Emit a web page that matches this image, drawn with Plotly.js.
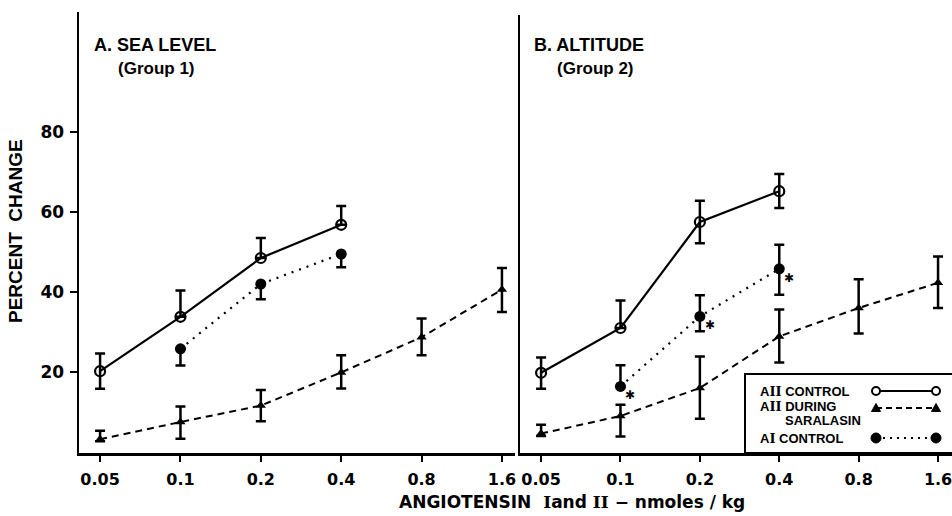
<!DOCTYPE html>
<html>
<head>
<meta charset="utf-8">
<script src="https://cdn.plot.ly/plotly-3.0.1.min.js"></script>
<style>html,body{margin:0;padding:0;background:#fff;}#chart{width:952px;height:516px;}</style>
</head>
<body>
<div id="chart"></div>
<script>
// ---------- data ----------
const doseLabels = ['0.05', '0.1', '0.2', '0.4', '0.8', '1.6'];
const dosesAll = [0.05, 0.1, 0.2, 0.4, 0.8, 1.6];
const dosesAII = [0.05, 0.1, 0.2, 0.4];
const dosesAI = [0.1, 0.2, 0.4];
const yTicks = [20, 40, 60, 80];

// A. Sea level (Group 1)
const seaAIIControl = [20.2, 33.8, 48.5, 56.8];
const seaAIIControlErrUp = [4.4, 6.6, 5.0, 4.7];
const seaAIIControlErrDn = [4.4, 0, 0, 0];
const seaSaralasin = [3.2, 7.5, 11.6, 19.9, 28.7, 40.6];
const seaSaralasinErrUp = [2.1, 3.9, 3.9, 4.3, 4.7, 5.4];
const seaSaralasinErrDn = [0.5, 4.2, 3.9, 4.0, 4.5, 5.6];
const seaAIControl = [25.8, 42.0, 49.5];
const seaAIControlErrUp = [0, 0, 0];
const seaAIControlErrDn = [4.2, 3.8, 3.3];

// B. Altitude (Group 2)
const altAIIControl = [19.8, 31.0, 57.5, 65.2];
const altAIIControlErrUp = [3.8, 6.9, 5.3, 4.3];
const altAIIControlErrDn = [4.0, 0, 5.3, 4.2];
const altSaralasin = [4.6, 9.0, 16.0, 28.9, 36.0, 42.3];
const altSaralasinErrUp = [2.2, 2.8, 7.9, 6.7, 7.2, 6.6];
const altSaralasinErrDn = [0.6, 5.1, 7.7, 6.5, 6.4, 6.3];
const altAIControl = [16.4, 33.9, 45.8];
const altAIControlErrUp = [5.3, 5.3, 6.0];
const altAIControlErrDn = [0, 3.7, 6.5];
const altSignificant = [true, true, true]; // asterisks on AI control (altitude)

// ---------- styles ----------
const FONT = 'Liberation Sans, Arial, sans-serif';
const WFONT = 'DejaVu Sans, sans-serif';
const W = 952, H = 516;
const fx = px => px / W;
const fy = py => 1 - py / H;

function errBars(up, dn) {
  return {type: 'data', symmetric: false, array: up, arrayminus: dn,
          color: '#000', thickness: 2.5, width: 5};
}
function aiiControl(x, y, up, dn, xa, ya) {
  return {x: x, y: y, xaxis: xa, yaxis: ya, type: 'scatter', mode: 'lines+markers',
    line: {color: '#000', width: 2.2},
    marker: {symbol: 'circle-open', size: 10, color: '#000', line: {width: 2.2, color: '#000'}},
    error_y: errBars(up, dn), showlegend: false, hoverinfo: 'x+y'};
}
function saralasin(x, y, up, dn, xa, ya) {
  return {x: x, y: y, xaxis: xa, yaxis: ya, type: 'scatter', mode: 'lines+markers',
    line: {color: '#000', width: 2, dash: '7px,5px'},
    marker: {symbol: 'triangle-up', size: 9, color: '#000'},
    error_y: errBars(up, dn), showlegend: false, hoverinfo: 'x+y'};
}
function aiControl(x, y, up, dn, xa, ya) {
  return {x: x, y: y, xaxis: xa, yaxis: ya, type: 'scatter', mode: 'lines+markers',
    line: {color: '#000', width: 2.2, dash: '2px,6px'},
    marker: {symbol: 'circle', size: 11, color: '#000'},
    error_y: errBars(up, dn), showlegend: false, hoverinfo: 'x+y'};
}

const traces = [
  saralasin(dosesAll, seaSaralasin, seaSaralasinErrUp, seaSaralasinErrDn, 'x', 'y'),
  aiControl(dosesAI, seaAIControl, seaAIControlErrUp, seaAIControlErrDn, 'x', 'y'),
  aiiControl(dosesAII, seaAIIControl, seaAIIControlErrUp, seaAIIControlErrDn, 'x', 'y'),
  saralasin(dosesAll, altSaralasin, altSaralasinErrUp, altSaralasinErrDn, 'x2', 'y2'),
  aiControl(dosesAI, altAIControl, altAIControlErrUp, altAIControlErrDn, 'x2', 'y2'),
  aiiControl(dosesAII, altAIIControl, altAIIControlErrUp, altAIIControlErrDn, 'x2', 'y2')
];

const xTickFont = {family: WFONT, size: 16, color: '#000', weight: 'bold'};
const yTickFont = {family: WFONT, size: 17, color: '#000', weight: 'bold'};
const baseX = {type: 'log', tickvals: dosesAll, ticktext: doseLabels, ticks: 'outside',
  ticklen: 6, tickwidth: 2, tickcolor: '#000', showline: true, linewidth: 2.5, linecolor: '#000',
  showgrid: false, zeroline: false, tickfont: xTickFont, ticklabelstandoff: 4,
  ticklabeloverflow: 'allow'};

const annotations = [
  {xref: 'paper', yref: 'paper', x: fx(92), y: fy(45), xanchor: 'left', yanchor: 'middle',
   text: 'A. SEA LEVEL', showarrow: false, font: {family: FONT, size: 18, color: '#000', weight: 'bold'}},
  {xref: 'paper', yref: 'paper', x: fx(116), y: fy(68), xanchor: 'left', yanchor: 'middle',
   text: '(Group 1)', showarrow: false, font: {family: FONT, size: 17, color: '#000', weight: 'bold'}},
  {xref: 'paper', yref: 'paper', x: fx(532), y: fy(45), xanchor: 'left', yanchor: 'middle',
   text: 'B. ALTITUDE', showarrow: false, font: {family: FONT, size: 18, color: '#000', weight: 'bold'}},
  {xref: 'paper', yref: 'paper', x: fx(555), y: fy(68), xanchor: 'left', yanchor: 'middle',
   text: '(Group 2)', showarrow: false, font: {family: FONT, size: 17, color: '#000', weight: 'bold'}},
  {xref: 'paper', yref: 'paper', x: fx(15), y: fy(231), xanchor: 'center', yanchor: 'middle',
   textangle: -90, text: 'PERCENT  CHANGE', showarrow: false,
   font: {family: FONT, size: 19, color: '#000', weight: 'bold'}},
  {xref: 'paper', yref: 'paper', x: fx(572), y: fy(502), xanchor: 'center', yanchor: 'middle',
   text: 'ANGIOTENSIN  <span style="font-family:DejaVu Serif">I</span>and <span style="font-family:DejaVu Serif">II</span> − nmoles / kg',
   showarrow: false, font: {family: WFONT, size: 17, color: '#000', weight: 'bold'}},
  // legend text
  {xref: 'paper', yref: 'paper', x: fx(758), y: fy(391), xanchor: 'left', yanchor: 'middle',
   text: 'A<span style="font-family:DejaVu Serif">II</span> CONTROL', showarrow: false,
   font: {family: FONT, size: 13, color: '#000', weight: 'bold'}},
  {xref: 'paper', yref: 'paper', x: fx(758), y: fy(406), xanchor: 'left', yanchor: 'middle',
   text: 'A<span style="font-family:DejaVu Serif">II</span> DURING', showarrow: false,
   font: {family: FONT, size: 13, color: '#000', weight: 'bold'}},
  {xref: 'paper', yref: 'paper', x: fx(783), y: fy(420), xanchor: 'left', yanchor: 'middle',
   text: 'SARALASIN', showarrow: false,
   font: {family: FONT, size: 13, color: '#000', weight: 'bold'}},
  {xref: 'paper', yref: 'paper', x: fx(758), y: fy(438), xanchor: 'left', yanchor: 'middle',
   text: 'A<span style="font-family:DejaVu Serif">I</span> CONTROL', showarrow: false,
   font: {family: FONT, size: 13, color: '#000', weight: 'bold'}}
];
// significance asterisks next to AI control (altitude)
dosesAI.forEach((d, i) => {
  if (altSignificant[i]) {
    annotations.push({xref: 'x2', yref: 'y2', x: Math.log10(d), y: altAIControl[i],
      xshift: 10, yshift: -9, text: '✱', showarrow: false,
      font: {family: 'DejaVu Sans', size: 12, color: '#000'}});
  }
});

// custom legend (key on the right of the text, as in the original)
const shapes = [
  {type: 'rect', xref: 'paper', yref: 'paper', x0: fx(745), x1: fx(960), y0: fy(374), y1: fy(453),
   line: {color: '#000', width: 2}, fillcolor: '#fff', layer: 'above'},
  {type: 'line', xref: 'paper', yref: 'paper', x0: fx(876), x1: fx(936), y0: fy(391), y1: fy(391),
   line: {color: '#000', width: 2}},
  {type: 'line', xref: 'paper', yref: 'paper', x0: fx(876), x1: fx(936), y0: fy(408), y1: fy(408),
   line: {color: '#000', width: 2, dash: '6px,4px'}},
  {type: 'line', xref: 'paper', yref: 'paper', x0: fx(876), x1: fx(936), y0: fy(438), y1: fy(438),
   line: {color: '#000', width: 2, dash: '2px,5px'}}
];
[876, 936].forEach(px => {
  shapes.push({type: 'circle', xref: 'paper', yref: 'paper', xsizemode: 'pixel', ysizemode: 'pixel',
    xanchor: fx(px), yanchor: fy(391), x0: -4, x1: 4, y0: -4, y1: 4,
    line: {color: '#000', width: 2}, fillcolor: '#fff'});
  shapes.push({type: 'path', xref: 'paper', yref: 'paper', xsizemode: 'pixel', ysizemode: 'pixel',
    xanchor: fx(px), yanchor: fy(408), path: 'M-4.5,-3.5 L4.5,-3.5 L0,4.5 Z',
    line: {color: '#000', width: 1}, fillcolor: '#000'});
  shapes.push({type: 'circle', xref: 'paper', yref: 'paper', xsizemode: 'pixel', ysizemode: 'pixel',
    xanchor: fx(px), yanchor: fy(438), x0: -5, x1: 5, y0: -5, y1: 5,
    line: {color: '#000', width: 1}, fillcolor: '#000'});
});

const layout = {
  width: W, height: H,
  margin: {l: 0, r: 0, t: 0, b: 0},
  paper_bgcolor: '#fff', plot_bgcolor: 'rgba(0,0,0,0)',
  showlegend: false,
  xaxis: Object.assign({}, baseX, {domain: [fx(79), fx(515)], range: [-1.380, 0.253], anchor: 'y'}),
  xaxis2: Object.assign({}, baseX, {domain: [fx(520), 1], range: [-1.381, 0.257], anchor: 'y2'}),
  yaxis: {domain: [fy(453), fy(12)], range: [-0.25, 110], tickvals: yTicks, ticks: 'outside',
    ticklen: 7, tickwidth: 2, tickcolor: '#000', showline: true, linewidth: 2.5, linecolor: '#000',
    showgrid: false, zeroline: false, tickfont: yTickFont, anchor: 'x', ticklabelstandoff: 2},
  yaxis2: {domain: [fy(453), fy(15)], range: [-0.25, 109.25], showticklabels: false, ticks: '',
    showline: true, linewidth: 2.5, linecolor: '#000', showgrid: false, zeroline: false, anchor: 'x2'},
  annotations: annotations,
  shapes: shapes
};

Plotly.newPlot('chart', traces, layout, {displayModeBar: false, staticPlot: true});
</script>
</body>
</html>
